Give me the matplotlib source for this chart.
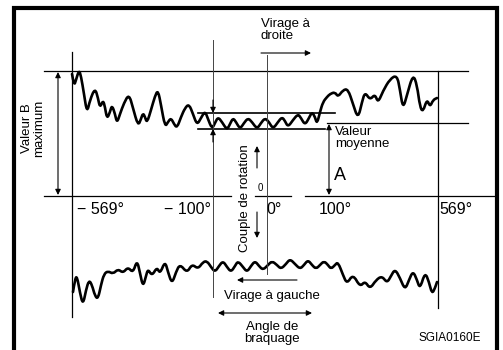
import numpy as np
import matplotlib.pyplot as plt
from matplotlib.path import Path
from matplotlib.patches import PathPatch

# drawing is laid out in pixel-like units (x right, y down)
upper_x = [72, 74, 76, 79, 81, 84, 87, 90, 95, 98, 100, 103, 105, 107, 110, 112, 115, 117, 120, 124,
           129, 133, 138, 141, 143, 145, 147, 151, 155, 158, 161, 165, 168, 171, 174, 177, 181, 185, 189,
           193, 197, 201, 205, 208, 212, 215, 218, 222, 227, 230, 233, 236, 240, 244, 248, 252, 257, 261,
           265, 269, 273, 278, 282, 285, 288, 293, 298, 301, 305, 309, 312, 315, 317, 320, 323, 327, 330,
           335, 338, 343, 348, 353, 358, 362, 365, 370, 375, 378, 383, 390, 397, 400, 403, 407, 413, 417,
           420, 423, 427, 430, 433, 437]
upper_y = [74, 86, 80, 70, 76, 94, 113, 100, 88, 98, 108, 100, 107, 119, 112, 105, 114, 123, 114, 103,
           94, 108, 126, 119, 113, 117, 123, 110, 96, 90, 105, 127, 122, 118, 124, 128, 117, 108, 104,
           114, 125, 118, 111, 119, 129, 123, 117, 122, 130, 124, 118, 122, 129, 123, 118, 122, 129, 123,
           118, 122, 129, 122, 117, 121, 127, 120, 114, 118, 125, 118, 112, 117, 124, 112, 102, 97, 94,
           92, 97, 90, 89, 104, 119, 102, 92, 100, 94, 103, 91, 79, 75, 90, 109, 95, 74, 85,
           107, 112, 99, 107, 100, 98]

lower_x = [73, 75, 77, 80, 83, 86, 89, 92, 95, 98, 101, 104, 108, 113, 118, 123, 128, 133, 137, 140,
           143, 146, 148, 152, 157, 160, 165, 168, 172, 176, 180, 187, 192, 198, 203, 207, 211, 215, 219,
           223, 227, 231, 235, 238, 243, 247, 251, 255, 259, 263, 268, 272, 277, 281, 286, 290, 295, 300,
           304, 308, 312, 316, 320, 324, 328, 331, 335, 338, 343, 347, 353, 360, 365, 370, 376, 382, 387,
           391, 395, 400, 405, 409, 413, 417, 420, 425, 429, 432, 435, 437]
lower_y = [292, 279, 276, 293, 305, 290, 280, 285, 296, 299, 285, 274, 271, 274, 269, 273, 267, 273, 260, 273,
           287, 276, 269, 276, 267, 274, 261, 272, 284, 272, 264, 273, 264, 269, 262, 261, 267, 272, 266,
           261, 267, 272, 266, 261, 267, 272, 266, 261, 266, 270, 265, 261, 265, 269, 264, 259, 264, 269,
           265, 260, 265, 269, 265, 261, 265, 269, 265, 262, 275, 284, 274, 287, 281, 289, 280, 276, 283,
           276, 269, 278, 290, 280, 271, 280, 289, 272, 282, 294, 288, 282]

tick_x = [101, 188, 274, 335, 456]
tick_labels = ['− 569°', '− 100°', '0°', '100°', '569°']

fig = plt.figure(figsize=(5.03, 3.5), dpi=100)
ax = fig.add_axes([0, 0, 1, 1])
ax.set_xlim(0, 503)
ax.set_ylim(350, 0)
ax.axis('off')

plt.rcParams['font.family'] = ['Liberation Sans', 'DejaVu Sans']
narrow = ['Liberation Sans Narrow', 'Liberation Sans', 'DejaVu Sans']


def smooth_curve(xs, ys):
    # quadratic bezier through midpoints, read points act as control points
    pts = np.column_stack([xs, ys]).astype(float)
    verts = [pts[0]]
    codes = [Path.MOVETO]
    for i in range(1, len(pts) - 1):
        mid = (pts[i] + pts[i + 1]) / 2
        verts += [pts[i], mid]
        codes += [Path.CURVE3, Path.CURVE3]
    verts.append(pts[-1])
    codes.append(Path.LINETO)
    patch = PathPatch(Path(verts, codes), fill=False, edgecolor='k', lw=1.9,
                      joinstyle='round', capstyle='round')
    ax.add_patch(patch)


# frame, open at the bottom
ax.plot([14, 14, 497, 497], [352, 8, 8, 352], color='k', lw=3, solid_joinstyle='miter')

thin = dict(color='k', lw=0.9)
grey = dict(color='#444444', lw=0.7)

# horizontal guides
ax.plot([44, 468], [71, 71], **thin)
ax.plot([327, 468], [123, 123], **thin)
ax.plot([198, 335], [113, 113], color='k', lw=1.2)
ax.plot([198, 325], [129, 129], color='k', lw=1.2)
for x0, x1 in [(44, 231), (255, 291), (305, 497)]:
    ax.plot([x0, x1], [196, 196], **thin)

# vertical guides
ax.plot([72, 72], [52, 317], **thin)
ax.plot([438, 438], [71, 308], **thin)
ax.plot([213, 213], [40, 297], **grey)
ax.plot([267, 267], [55, 274], **grey)

# curves
smooth_curve(upper_x, upper_y)
smooth_curve(lower_x, lower_y)

arr = dict(arrowstyle='-|>', color='k', lw=0.8, mutation_scale=8, shrinkA=0, shrinkB=0)
dbl = dict(arrowstyle='<|-|>', color='k', lw=0.8, mutation_scale=8, shrinkA=0, shrinkB=0)

ax.annotate('', xy=(58, 72), xytext=(58, 195), arrowprops=dbl)
ax.annotate('', xy=(329, 124), xytext=(329, 195), arrowprops=dbl)
ax.annotate('', xy=(213, 113), xytext=(213, 100), arrowprops=arr)
ax.annotate('', xy=(213, 129), xytext=(213, 142), arrowprops=arr)
ax.annotate('', xy=(311, 53), xytext=(261, 53), arrowprops=arr)
ax.annotate('', xy=(237, 280), xytext=(297, 280), arrowprops=arr)
ax.annotate('', xy=(218, 313), xytext=(312, 313), arrowprops=dbl)
ax.annotate('', xy=(257, 146), xytext=(257, 168), arrowprops=arr)
ax.annotate('', xy=(257, 238), xytext=(257, 212), arrowprops=arr)

# texts
fs = 9.5
ax.text(261, 30, 'Virage à\ndroite', fontsize=fs, ha='left', va='center', linespacing=1.05)
ax.text(33, 128, 'Valeur B\nmaximum', fontsize=fs, rotation=90, ha='center', va='center',
        linespacing=1.05)
ax.text(335, 138, 'Valeur\nmoyenne', fontsize=fs, ha='left', va='center', linespacing=1.05)
ax.text(334, 176, 'A', fontsize=13, ha='left', va='center')
ax.text(245, 198, 'Couple de rotation', fontsize=fs, rotation=90, ha='center', va='center')
ax.text(260, 188, '0', fontsize=7, ha='center', va='center', family=narrow)
for x, lab in zip(tick_x, tick_labels):
    ax.text(x, 210, lab, fontsize=11.5, ha='center', va='center', family=narrow)
ax.text(272, 296, 'Virage à gauche', fontsize=fs, ha='center', va='center')
ax.text(272, 333, 'Angle de\nbraquage', fontsize=fs, ha='center', va='center', linespacing=1.05)
ax.text(481, 338, 'SGIA0160E', fontsize=8.5, ha='right', va='center')

fig.savefig('out.png', dpi=100)
